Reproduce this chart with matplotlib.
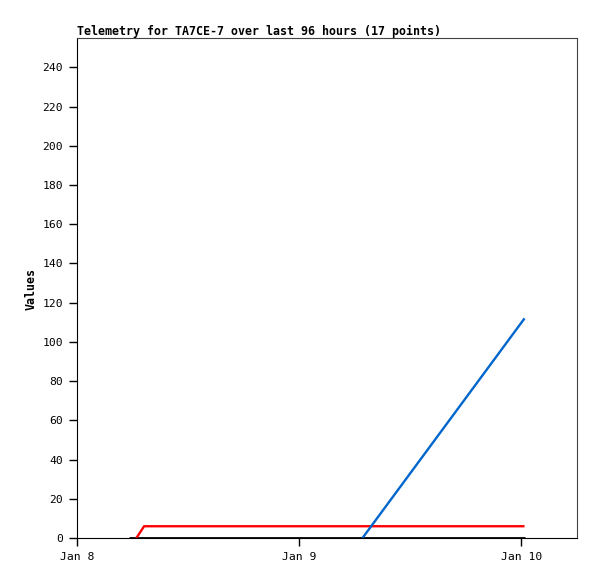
import matplotlib
matplotlib.use("Agg")
import matplotlib.pyplot as plt
import matplotlib.dates as mdates
from datetime import datetime

# Data
black_times = ["2024-01-08 05:40", "2024-01-08 12:00", "2024-01-09 00:00",
               "2024-01-09 12:00", "2024-01-10 00:20"]
black_values = [0, 0, 0, 0, 0]

red_times = ["2024-01-08 06:25", "2024-01-08 07:15", "2024-01-08 18:00",
             "2024-01-09 06:00", "2024-01-09 18:00", "2024-01-10 00:20"]
red_values = [0, 6, 6, 6, 6, 6]

blue_times = ["2024-01-09 06:50", "2024-01-10 00:20"]
blue_values = [0, 112]

title = "Telemetry for TA7CE-7 over last 96 hours (17 points)"
ylabel = "Values"
x_start = "2024-01-08 00:00"
x_end = "2024-01-10 06:00"
y_max = 255
y_ticks = list(range(0, 241, 20))

def conv(ts):
    return [datetime.strptime(t, "%Y-%m-%d %H:%M") for t in ts]

plt.rcParams['font.family'] = ['DejaVu Sans Mono']

fig = plt.figure(figsize=(5.97, 5.79), dpi=100)
ax = fig.add_axes([77/597, 41/579, 500/597, 500/579])

ax.plot(conv(black_times), black_values, color="#000000", lw=2.0, solid_capstyle='butt')
ax.plot(conv(red_times), red_values, color="#ff0000", lw=1.7, solid_capstyle='butt')
ax.plot(conv(blue_times), blue_values, color="#0066cc", lw=1.7, solid_capstyle='butt')

ax.set_xlim(datetime.strptime(x_start, "%Y-%m-%d %H:%M"), datetime.strptime(x_end, "%Y-%m-%d %H:%M"))
ax.set_ylim(0, y_max)
ax.set_yticks(y_ticks)
ax.xaxis.set_major_locator(mdates.DayLocator())
ax.xaxis.set_major_formatter(mdates.DateFormatter("%b %-d"))

ax.tick_params(axis='both', direction='out', length=6, width=1, labelsize=8.2)
ax.tick_params(axis='y', pad=4)
ax.tick_params(axis='x', pad=4)
for s in ["left", "bottom"]:
    ax.spines[s].set_color("black")
for s in ["top", "right"]:
    ax.spines[s].set_color("#444444")

ax.set_title(title, loc='left', fontsize=8.4, fontweight='bold', pad=2)
ax.set_ylabel(ylabel, fontsize=8.4, fontweight='bold')
ax.yaxis.set_label_coords(-0.078, 0.498)

fig.savefig("out.png", dpi=100)
